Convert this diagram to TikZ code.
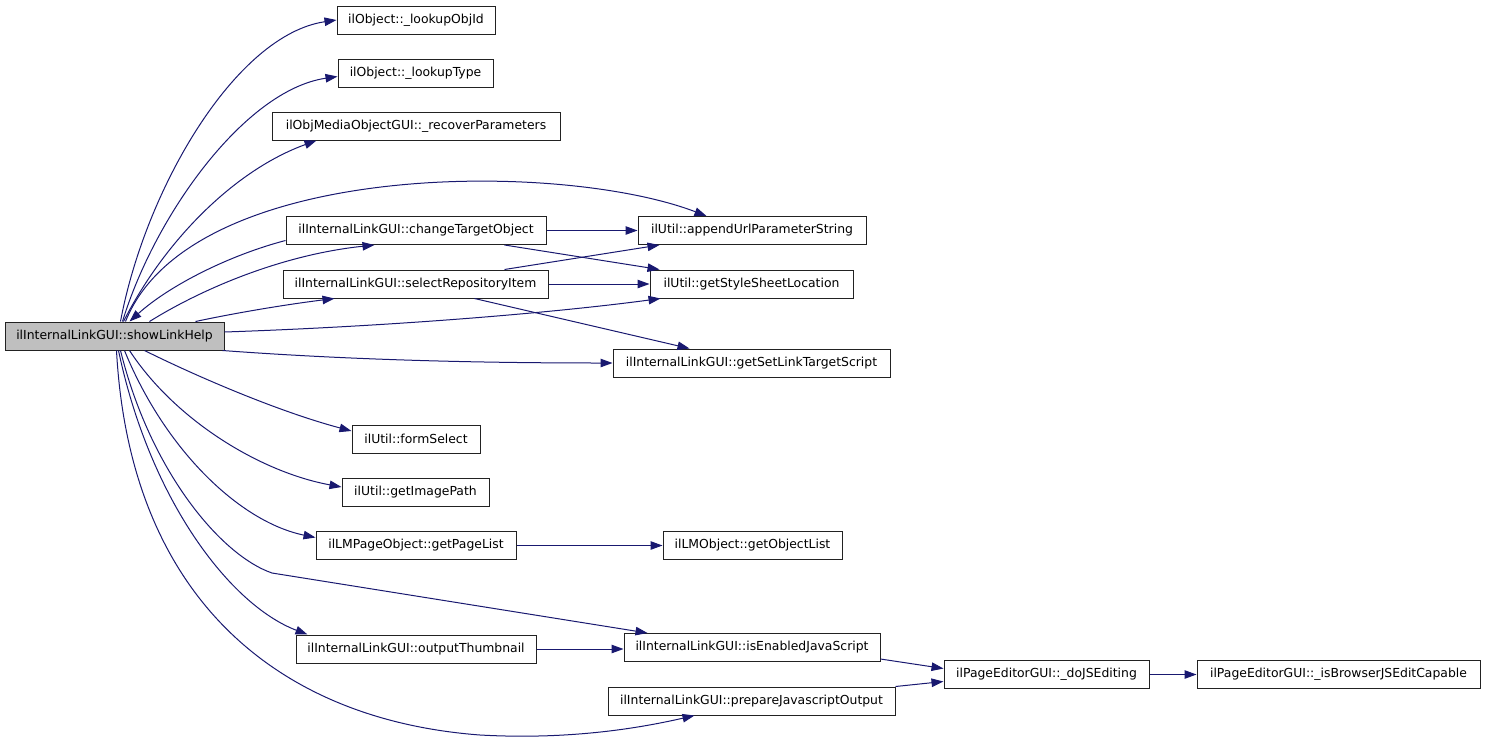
\documentclass[tikz,border=0pt]{standalone}
\usepackage{fontspec}
\setmainfont{DejaVu Sans}
\usetikzlibrary{arrows.meta,calc}
\definecolor{edgecol}{HTML}{191970}
\definecolor{boxline}{HTML}{222222}
\definecolor{mainfill}{HTML}{BFBFBF}
\begin{document}
\begin{tikzpicture}[x=1pt,y=-1pt,
  fn/.style={draw=boxline,line width=1pt,fill=white,rectangle,inner sep=0pt,minimum height=28pt,font=\fontsize{12.4}{14}\selectfont},
  mainfn/.style={fn,fill=mainfill},
  call/.style={draw=edgecol,line width=1pt,-{Triangle[length=12pt,width=8.5pt]},fill=none},
]
\useasboundingbox (0,0) rectangle (1485,742);
% nodes
\node[mainfn,minimum width=219pt] (show) at (114.5,336) {ilInternalLinkGUI::showLinkHelp};
\node[fn,minimum width=158pt] (objid) at (416,20) {ilObject::\_lookupObjId};
\node[fn,minimum width=155pt] (type) at (415.5,73.5) {ilObject::\_lookupType};
\node[fn,minimum width=288pt] (recover) at (416,126) {ilObjMediaObjectGUI::\_recoverParameters};
\node[fn,minimum width=260pt] (change) at (416,230.5) {ilInternalLinkGUI::changeTargetObject};
\node[fn,minimum width=265pt] (select) at (415.5,284) {ilInternalLinkGUI::selectRepositoryItem};
\node[fn,minimum width=228pt] (append) at (752,230.5) {ilUtil::appendUrlParameterString};
\node[fn,minimum width=203pt] (style) at (751.5,284) {ilUtil::getStyleSheetLocation};
\node[fn,minimum width=277pt] (setlink) at (751.5,363) {ilInternalLinkGUI::getSetLinkTargetScript};
\node[fn,minimum width=128pt] (form) at (416,439) {ilUtil::formSelect};
\node[fn,minimum width=147pt] (image) at (415.5,492) {ilUtil::getImagePath};
\node[fn,minimum width=200pt] (page) at (416,545.5) {ilLMPageObject::getPageList};
\node[fn,minimum width=179pt] (objlist) at (752.5,545.5) {ilLMObject::getObjectList};
\node[fn,minimum width=240pt] (thumb) at (416,649) {ilInternalLinkGUI::outputThumbnail};
\node[fn,minimum width=256pt] (enabled) at (752,647.5) {ilInternalLinkGUI::isEnabledJavaScript};
\node[fn,minimum width=287pt] (prepare) at (751.5,701) {ilInternalLinkGUI::prepareJavascriptOutput};
\node[fn,minimum width=205pt] (dojs) at (1046.5,674.5) {ilPageEditorGUI::\_doJSEditing};
\node[fn,minimum width=283pt] (browser) at (1338.5,674.5) {ilPageEditorGUI::\_isBrowserJSEditCapable};
% edges from showLinkHelp upwards
\draw[call] ($(show.north west)+(116,0)$) .. controls (145,190) and (235,35) .. (objid.west);
\draw[call] ($(show.north west)+(118,0)$) .. controls (155,215) and (245,90) .. ($(type.west)+(0,3)$);
\draw[call] ($(show.north west)+(119,0)$) .. controls (165,240) and (235,170) .. ($(recover.south west)+(45,0)$);
\draw[call] ($(show.north west)+(121,0)$) .. controls (190,160) and (560,160) .. ($(append.north west)+(69,0)$);
\draw[call] ($(change.west)+(0,10)$) .. controls (230,255) and (170,285) .. ($(show.north west)+(125,0)$);
\draw[call] ($(show.north west)+(145,0)$) .. controls (200,290) and (280,255) .. ($(change.south west)+(89,0)$);
\draw[call] ($(show.north west)+(191,0)$) .. controls (240,312) and (290,304) .. ($(select.south west)+(52,0)$);
\draw[call] ($(show.east)+(0,-4)$) .. controls (400,326) and (560,312) .. ($(style.south west)+(11,0)$);
% edges from showLinkHelp downwards
\draw[call] ($(show.south east)+(-2,0)$) .. controls (350,360) and (480,363) .. (setlink.west);
\draw[call] ($(show.south west)+(140,0)$) .. controls (200,378) and (280,412) .. ($(form.west)+(0,-8)$);
\draw[call] ($(show.south west)+(125,0)$) .. controls (175,420) and (260,472) .. ($(image.west)+(0,-5)$);
\draw[call] ($(show.south west)+(120,0)$) .. controls (165,450) and (240,522) .. ($(page.west)+(0,-8)$);
\draw[call] ($(show.south west)+(116,0)$) .. controls (150,470) and (220,555) .. (272,573) -- ($(enabled.north west)+(24,0)$);
\draw[call] ($(show.south west)+(114,0)$) .. controls (150,500) and (230,605) .. ($(thumb.north west)+(12,0)$);
\draw[call] ($(show.south west)+(112,0)$) .. controls (130,600) and (280,720) .. (480,735) .. controls (570,740) and (640,728) .. ($(prepare.south west)+(87,0)$);
% other edges
\draw[call] (change.east) -- (append.west);
\draw[call] ($(change.south west)+(219,0)$) -- ($(style.north west)+(10,0)$);
\draw[call] ($(select.north west)+(222,0)$) -- ($(append.south west)+(22,0)$);
\draw[call] (select.east) -- (style.west);
\draw[call] ($(select.south west)+(192,0)$) -- ($(setlink.north west)+(77,0)$);
\draw[call] (page.east) -- (objlist.west);
\draw[call] (thumb.east) -- (thumb.east -| enabled.west);
\draw[call] ($(enabled.south east)+(0,-3)$) -- ($(dojs.west)+(0,-6)$);
\draw[call] ($(prepare.north east)+(0,0)$) -- ($(dojs.west)+(0,7)$);
\draw[call] (dojs.east) -- (browser.west);
\end{tikzpicture}
\end{document}
